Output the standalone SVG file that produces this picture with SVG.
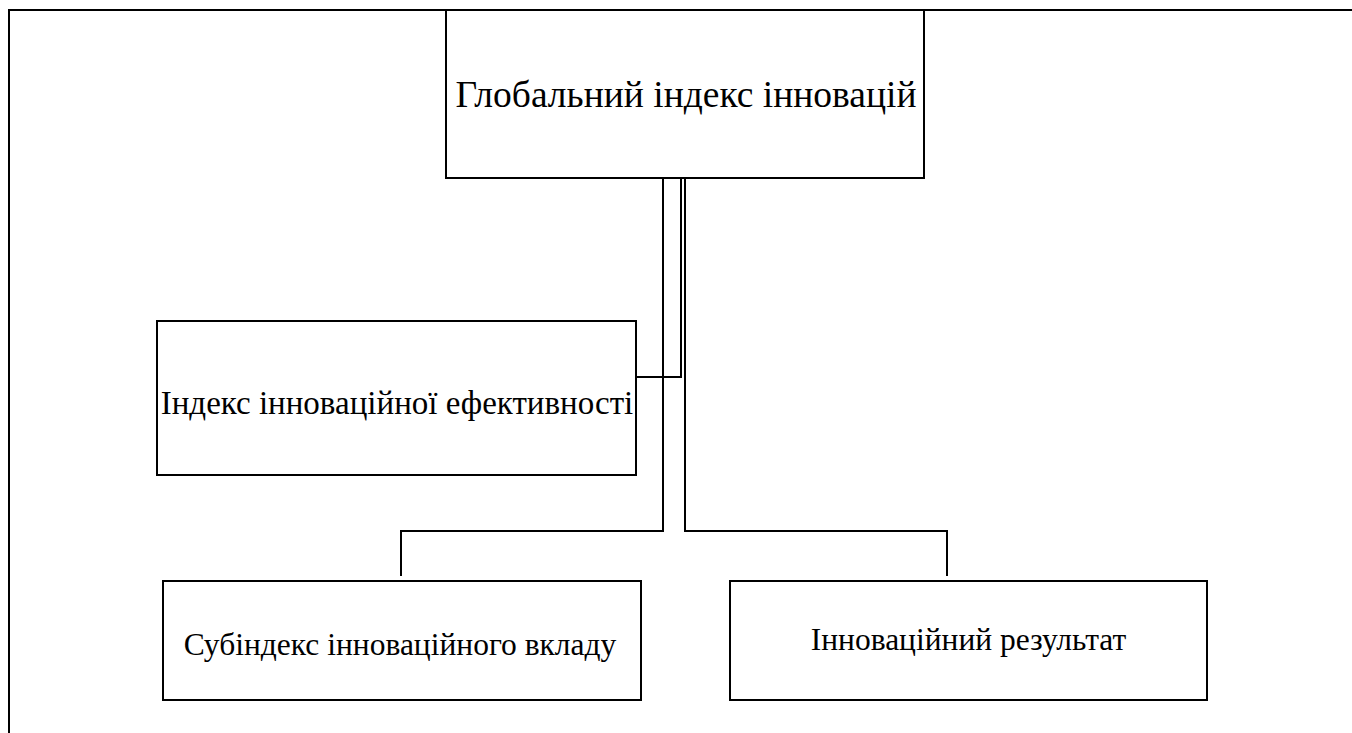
<svg xmlns="http://www.w3.org/2000/svg" width="1352" height="733" viewBox="0 0 1352 733">
<style>
.box{fill:#fff;stroke:#000;stroke-width:2}
.ln{fill:none;stroke:#000;stroke-width:2}
text{font-family:"Liberation Serif","Times New Roman","DejaVu Serif",serif;fill:#000;text-anchor:middle}
.t1{font-size:37.5px}
.t2{font-size:33px}
.t3{font-size:31.5px}
</style>
<rect width="1352" height="733" fill="#fff"/>
<g id="frame">
<path class="ln" d="M8 10H1352M9 10V733"/>
</g>
<g id="connectors">
<path class="ln" d="M681 178V377H636"/>
<path class="ln" d="M663 178V531H401V576"/>
<path class="ln" d="M685 178V531H947V576"/>
</g>
<g id="n-global">
<rect class="box" x="446" y="10" width="478" height="168"/>
<text class="t1" x="686" y="107">Глобальний індекс інновацій</text>
</g>
<g id="n-efficiency">
<rect class="box" x="157" y="321" width="479" height="154"/>
<text class="t2" x="397" y="414">Індекс інноваційної ефективності</text>
</g>
<g id="n-input">
<rect class="box" x="163" y="581" width="478" height="119"/>
<text class="t3" x="400" y="655">Субіндекс інноваційного вкладу</text>
</g>
<g id="n-output">
<rect class="box" x="730" y="581" width="477" height="119"/>
<text class="t3" x="968.5" y="650">Інноваційний результат</text>
</g>
</svg>
